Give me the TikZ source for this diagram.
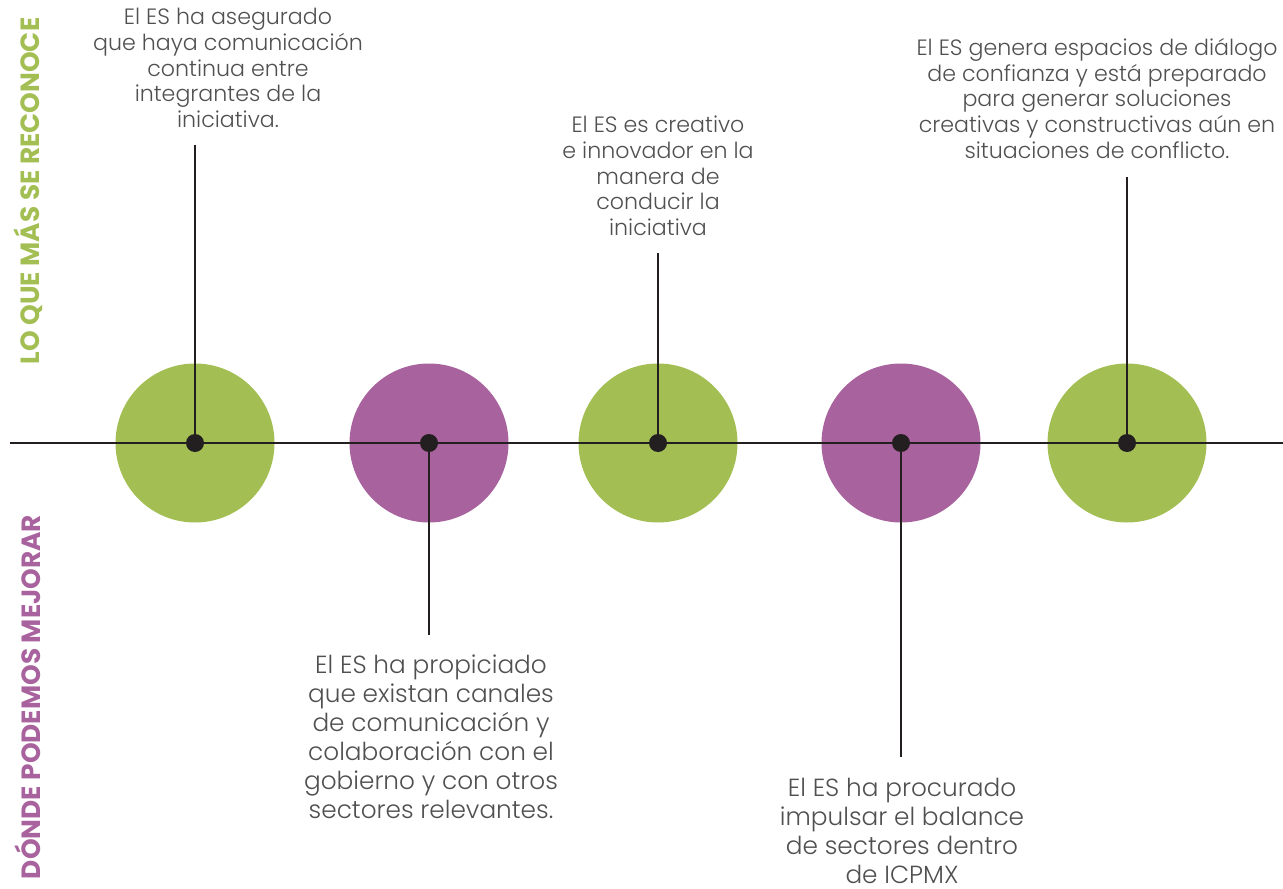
\documentclass[tikz,border=0pt]{standalone}
\usepackage{fontspec}
\IfFontExistsTF{Poppins Light}{\setmainfont{Poppins Light}[BoldFont={Poppins Bold}]}{\setmainfont{Poppins}}
\newfontfamily\headfont{Poppins}
\usepackage{tikz}
\usetikzlibrary{positioning}

\definecolor{leafgreen}{HTML}{A3BE53}
\definecolor{plum}{HTML}{A8629D}
\definecolor{inkdark}{HTML}{231F20}
\definecolor{txtgray}{HTML}{505050}

\tikzset{
    blob/.style={circle, minimum size=159*0.02cm, inner sep=0pt},
    dotnode/.style={circle, fill=inkdark, minimum size=18*0.02cm, inner sep=0pt},
    stem/.style={inkdark, line width=1.3pt},
    says/.style={align=center, text=txtgray, inner sep=0pt, font=\fontsize{12.6}{14.6}\selectfont},
    saysbig/.style={says, font=\fontsize{14.1}{16.4}\selectfont},
    sidelabel/.style={rotate=90, font=\headfont\bfseries\fontsize{15}{18}\selectfont}
}

\begin{document}
\begin{tikzpicture}[x=0.02cm, y=-0.02cm]
    \useasboundingbox (0,0) rectangle (1283,888);

    % circles on the axis
    \node[blob, fill=leafgreen] (c1) at (195,443) {};
    \node[blob, fill=plum] (c2) at (429,443) {};
    \node[blob, fill=leafgreen] (c3) at (658,443) {};
    \node[blob, fill=plum] (c4) at (901,443) {};
    \node[blob, fill=leafgreen] (c5) at (1127,443) {};

    % axis
    \coordinate (axl) at (10,443);
    \coordinate (axr) at (1283,443);
    \draw[stem] (axl) -- (axr);

    % texts
    \node[says, anchor=north] (t1) at (228,8) {El ES ha asegurado\\que haya comunicación\\continua entre\\integrantes de la\\iniciativa.};
    \node[saysbig, anchor=north] (t2) at (431,655) {El ES ha propiciado\\que existan canales\\de comunicación y\\colaboración con el\\gobierno y con otros\\sectores relevantes.};
    \node[says, anchor=north] (t3) at (658,116) {El ES es creativo\\e innovador en la\\manera de\\conducir la\\iniciativa};
    \node[saysbig, anchor=north] (t4) at (902,778) {El ES ha procurado\\impulsar el balance\\de sectores dentro\\de ICPMX};
    \node[says, anchor=north] (t5) at (1097,38) {El ES genera espacios de diálogo\\de confianza y está preparado\\para generar soluciones\\creativas y constructivas aún en\\situaciones de conflicto.};

    % stem ends
    \coordinate (e1) at (195,145);
    \coordinate (e2) at (429,635);
    \coordinate (e3) at (658,253);
    \coordinate (e4) at (901,757);
    \coordinate (e5) at (1127,177);

    \foreach \i in {1,...,5}{
        \draw[stem] (c\i.center) -- (e\i);
        \node[dotnode] (d\i) at (c\i.center) {};
    }

    % side headings
    \node[sidelabel, text=leafgreen] (upper) at (28,191) {LO QUE MÁS SE RECONOCE};
    \node[sidelabel, text=plum] (lower) at (28,697) {DÓNDE PODEMOS MEJORAR};
\end{tikzpicture}
\end{document}
